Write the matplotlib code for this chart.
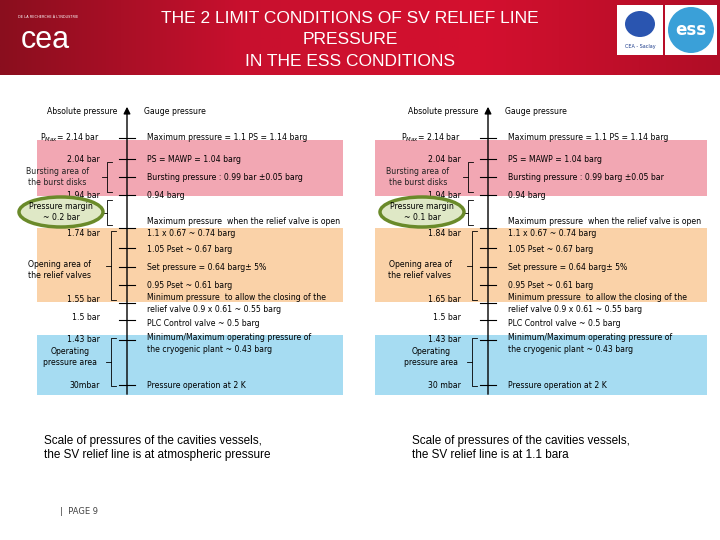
import matplotlib
matplotlib.use("Agg")
import matplotlib.pyplot as plt
import numpy as np
from matplotlib.patches import Rectangle, Ellipse
from matplotlib.colors import LinearSegmentedColormap

title = "THE 2 LIMIT CONDITIONS OF SV RELIEF LINE\nPRESSURE\nIN THE ESS CONDITIONS"
captions = ["Scale of pressures of the cavities vessels,\nthe SV relief line is at atmospheric pressure",
            "Scale of pressures of the cavities vessels,\nthe SV relief line is at 1.1 bara"]
abs_left = ["P$_{Max}$= 2.14 bar", "2.04 bar", "1.94 bar", "1.74 bar", "1.55 bar", "1.5 bar", "1.43 bar", "30mbar"]
abs_right = ["P$_{Max}$= 2.14 bar", "2.04 bar", "1.94 bar", "1.84 bar", "1.65 bar", "1.5 bar", "1.43 bar", "30 mbar"]
margins = ["Pressure margin\n~ 0.2 bar", "Pressure margin\n~ 0.1 bar"]
burst = ["Bursting pressure : 0.99 bar \u00b10.05 barg", "Bursting pressure : 0.99 barg \u00b10.05 bar"]
gauge = ["Maximum pressure = 1.1 PS = 1.14 barg", "PS = MAWP = 1.04 barg", None, "0.94 barg",
         "Maximum pressure  when the relief valve is open", "1.1 x 0.67 ~ 0.74 barg",
         "1.05 Pset ~ 0.67 barg", "Set pressure = 0.64 barg\u00b1 5%", "0.95 Pset ~ 0.61 barg",
         "Minimum pressure  to allow the closing of the", "relief valve 0.9 x 0.61 ~ 0.55 barg",
         "PLC Control valve ~ 0.5 barg", "Minimum/Maximum operating pressure of",
         "the cryogenic plant ~ 0.43 barg", "Pressure operation at 2 K"]
gauge_y = [138, 159, 177, 195, 222, 234, 250, 268, 285, 298, 310, 323, 338, 350, 386]
abs_y = [138, 159, 195, 234, 300, 318, 340, 386]
tick_y = [138, 159, 177, 195, 228, 248, 267, 285, 303, 320, 340, 385]

fig = plt.figure(figsize=(7.2, 5.4), dpi=100)
ax = fig.add_axes([0, 0, 1, 1])
ax.set_xlim(0, 720); ax.set_ylim(540, 0); ax.axis("off")

grad = np.linspace(0, 1, 256)[None, :]
cm = LinearSegmentedColormap.from_list("h", ["#8a0e1e", "#c8102e", "#d4102f", "#b00d26"])
ax.imshow(grad, extent=[0, 720, 75, 0], cmap=cm, aspect="auto", zorder=0)
ax.text(350, 40, title, color="white", ha="center", va="center", fontsize=12.5,
        family="Liberation Sans", linespacing=1.55)
ax.text(18, 17, "DE LA RECHERCHE À L'INDUSTRIE", color="white", fontsize=2.5, va="center")
ax.text(45, 40, "cea", color="white", fontsize=22, ha="center", va="center", family="Liberation Sans")
ax.add_patch(Rectangle((617, 5), 46, 50, facecolor="white", zorder=2))
ax.text(640, 48, "CEA - Saclay", fontsize=3.5, ha="center", color="#1a3a8a", zorder=3)
ax.add_patch(Ellipse((640, 24), 30, 26, facecolor="#2a55b0", zorder=3))
ax.add_patch(Rectangle((665, 5), 52, 50, facecolor="white", zorder=2))
ax.add_patch(Ellipse((691, 30), 46, 46, facecolor="#3aa0d8", zorder=3))
ax.text(691, 30, "ess", color="white", fontsize=12, ha="center", va="center", weight="bold", zorder=4)

fs = 5.6
for k, dx in enumerate([0, 361]):
    axx = 127 + dx
    bx0, bw = (37, 306) if k == 0 else (375, 332)
    ax.add_patch(Rectangle((bx0, 140), bw, 56, facecolor="#f2a7b3", zorder=1))
    ax.add_patch(Rectangle((bx0, 228), bw, 74, facecolor="#fad2a8", zorder=1))
    ax.add_patch(Rectangle((bx0, 335), bw, 60, facecolor="#a6dcf2", zorder=1))
    ax.annotate("", xy=(axx, 104), xytext=(axx, 397),
                arrowprops=dict(arrowstyle="-|>", color="black", lw=1), zorder=4)
    for ty in tick_y:
        ax.plot([axx - 8, axx + 8], [ty, ty], color="black", lw=0.8, zorder=4)
    ax.text(axx - 45, 112, "Absolute pressure", fontsize=fs, ha="center", va="center")
    ax.text(axx + 48, 112, "Gauge pressure", fontsize=fs, ha="center", va="center")
    labs = abs_left if k == 0 else abs_right
    for t, y in zip(labs, abs_y):
        ax.text(axx - 27, y, t, fontsize=fs, ha="right", va="center", zorder=5)
    for t, y in zip(gauge, gauge_y):
        if t is None:
            t = burst[k]
        ax.text(axx + 20, y, t, fontsize=fs, ha="left", va="center", zorder=5)
    for (y0, y1, xb) in [(162, 192, axx - 20), (200, 225, axx - 20), (231, 300, axx - 16), (338, 386, axx - 16)]:
        ax.plot([xb + 5, xb, xb, xb + 5], [y0, y0, y1, y1], color="black", lw=0.6, zorder=4)
        ax.plot([xb - 5, xb], [(y0 + y1) / 2] * 2, color="black", lw=0.6, zorder=4)
    ax.text(axx - 70, 177, "Bursting area of\nthe burst disks", fontsize=fs, ha="center", va="center", zorder=5, color="#222")
    ax.text(axx - 68, 270, "Opening area of\nthe relief valves", fontsize=fs, ha="center", va="center", zorder=5)
    ax.text(axx - 57, 357, "Operating\npressure area", fontsize=fs, ha="center", va="center", zorder=5)
    ax.add_patch(Ellipse((axx - 66, 212), 84, 30, facecolor="#dfe8c6", edgecolor="#6a8a2a", lw=2.5, zorder=5))
    ax.text(axx - 66, 212, margins[k], fontsize=fs, ha="center", va="center", zorder=6)
    ax.text(44 if k == 0 else 412, 448, captions[k], fontsize=8.5, ha="left", va="center", family="Liberation Sans")

ax.text(60, 511, "|  PAGE 9", fontsize=6, va="center", color="#444")
fig.savefig("out.png", dpi=100)
